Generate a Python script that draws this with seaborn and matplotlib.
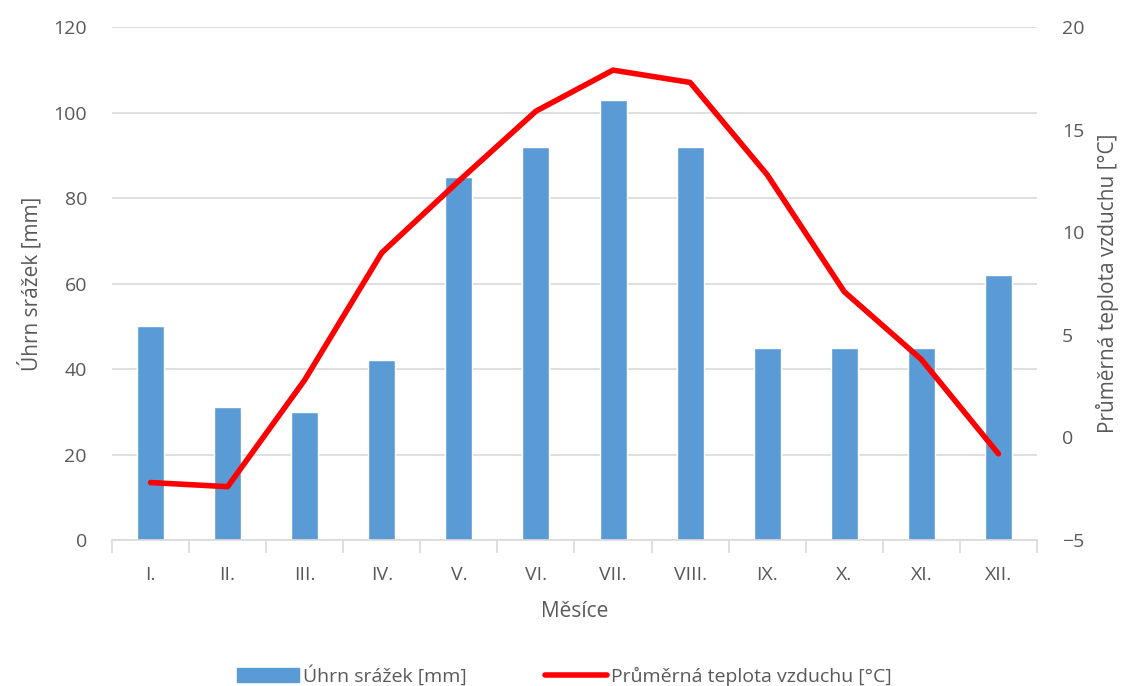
import numpy as np
import pandas as pd
import matplotlib.pyplot as plt
import seaborn as sns
from matplotlib.patches import Patch
from matplotlib.lines import Line2D

# Data
months = ["I.", "II.", "III.", "IV.", "V.", "VI.", "VII.", "VIII.", "IX.", "X.", "XI.", "XII."]
precip = [50, 31, 30, 42, 85, 92, 103, 92, 45, 45, 45, 62]
temp = [-2.2, -2.4, 2.8, 9.0, 12.5, 15.9, 17.9, 17.3, 12.8, 7.1, 3.8, -0.8]

BAR_COLOR = "#5B9BD5"
TEXT = "#595959"
GRID = "#D9D9D9"


def main():
    df = pd.DataFrame({"month": months, "precip": precip, "temp": temp})

    sns.set_theme(style="white")
    plt.rcParams["font.family"] = ["Open Sans", "DejaVu Sans"]

    fig = plt.figure(figsize=(11.29, 6.86), dpi=100)
    ax = fig.add_axes([0.0992, 0.2128, 0.8193, 0.7478])

    sns.barplot(data=df, x="month", y="precip", color=BAR_COLOR, width=0.35,
                saturation=1, ax=ax, zorder=2)
    ax.set_ylim(0, 120)
    ax.set_yticks(range(0, 121, 20))
    ax.yaxis.grid(True, color=GRID, linewidth=1.2)
    ax.set_axisbelow(True)
    ax.set_xlim(-0.5, 11.5)

    # category boundary ticks
    ax.set_xticks(np.arange(-0.5, 12, 1), minor=True)
    ax.tick_params(axis="x", which="minor", length=9, width=1.2, color=GRID, bottom=True)
    ax.tick_params(axis="x", which="major", length=0, pad=19, labelsize=14, labelcolor=TEXT)
    ax.tick_params(axis="y", length=0, pad=18, labelsize=14, labelcolor=TEXT)

    for s in ["top", "right", "left"]:
        ax.spines[s].set_visible(False)
    ax.spines["bottom"].set_color(GRID)
    ax.spines["bottom"].set_linewidth(1.2)

    ax.set_xlabel("Měsíce", fontsize=15, color=TEXT, labelpad=12)
    ax.set_ylabel("Úhrn srážek [mm]", fontsize=15, color=TEXT, labelpad=8)

    ax2 = ax.twinx()
    sns.lineplot(x=np.arange(len(months)), y=df["temp"], color="#FF0000",
                 linewidth=4, ax=ax2, zorder=3)
    ax2.set_ylim(-5, 20)
    ax2.set_yticks(range(-5, 21, 5))
    ax2.tick_params(axis="y", length=0, pad=18, labelsize=14, labelcolor=TEXT)
    for s in ["top", "right", "left", "bottom"]:
        ax2.spines[s].set_visible(False)
    ax2.set_ylabel("Průměrná teplota vzduchu [°C]", fontsize=15, color=TEXT, labelpad=8)
    ax2.set_xlim(-0.5, 11.5)

    handles = [Patch(color=BAR_COLOR, label="Úhrn srážek [mm]"),
               Line2D([0], [0], color="#FF0000", linewidth=4,
                      label="Průměrná teplota vzduchu [°C]")]
    leg = fig.legend(handles=handles, loc="lower center", ncol=2, frameon=False,
                     bbox_to_anchor=(0.5, -0.025), fontsize=14, handlelength=3.2,
                     handletextpad=0.2, columnspacing=4.0)
    for t in leg.get_texts():
        t.set_color(TEXT)

    fig.savefig("out.png", dpi=100)
    plt.close(fig)


if __name__ == "__main__":
    main()
